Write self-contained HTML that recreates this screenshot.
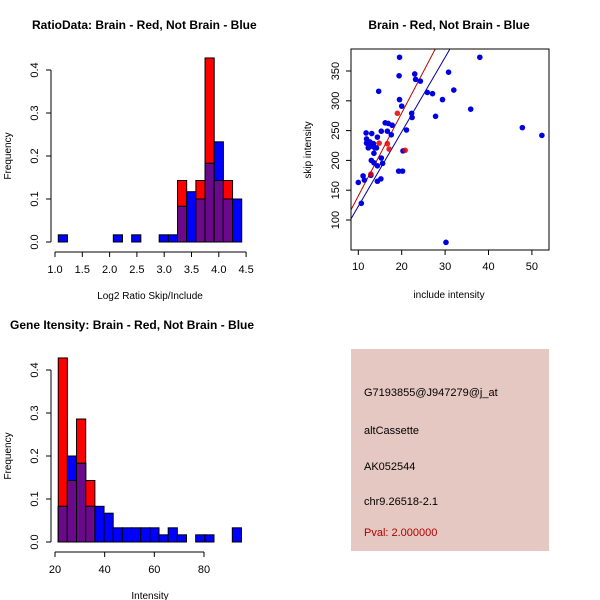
<!DOCTYPE html>
<html><head><meta charset="utf-8"><style>
body{margin:0;background:#fff}
svg{display:block;font-family:"Liberation Sans",sans-serif}
</style></head><body>
<svg id="c" width="600" height="600" viewBox="0 0 600 600">
<rect width="600" height="600" fill="#fff"/>
<g>
<rect x="351" y="349" width="198" height="202" fill="#e6c8c2"/>
<text x="364" y="396" font-size="11">G7193855@J947279@j_at</text>
<text x="364" y="434" font-size="11">altCassette</text>
<text x="364" y="470" font-size="11">AK052544</text>
<text x="364" y="505" font-size="11">chr9.26518-2.1</text>
<text x="364" y="536" font-size="11" fill="#b00000">Pval: 2.000000</text>
</g>
</svg>
<script>
// Histogram 1 data
const h1Red=[0,0,0,0,0,0,0,0,0,0,0,0,0,0.143,0,0.143,0.428,0.143,0.143,0];
const h1Blue=[0.0167,0,0,0,0,0,0.0167,0,0.0167,0,0,0.0167,0.0167,0.083,0.117,0.1,0.183,0.233,0.1,0.1];
const h1Start=1.06, h1Width=0.168;
const h1XTicks=[1.0,1.5,2.0,2.5,3.0,3.5,4.0,4.5];
const h1YTicks=[0.0,0.1,0.2,0.3,0.4];
// Histogram 2 data
const h2Red=[0.428,0.143,0.286,0.143,0,0,0,0,0,0,0,0,0,0,0,0,0,0,0,0];
const h2Blue=[0.083,0.2,0.183,0.083,0.083,0.067,0.033,0.033,0.033,0.033,0.033,0.0167,0.033,0.0167,0,0.0167,0.0167,0,0,0.033];
const h2Start=21.3, h2Width=3.69;
const h2XTicks=[20,40,60,80];
const h2YTicks=[0.0,0.1,0.2,0.3,0.4];
// Scatter data
const blueX=[19.5,38.0,30.8,23.0,19.4,23.2,24.3,14.7,32.0,25.9,27.1,19.5,29.4,20.0,35.9,22.3,22.4,27.8,47.8,52.3,16.2,16.9,17.8,15.3,16.7,21.1,17.6,11.8,13.1,14.4,11.9,12.3,12.7,12.3,13.1,13.5,13.8,13.6,12.7,11.9,14.2,20.3,13.0,13.6,15.3,15.6,14.4,19.3,20.2,11.1,11.4,10.0,14.4,15.2,10.7,30.2,12.9];
const blueY=[373,373,348,345,342,336,333,316,318,314,312,302,302,291,286,279,272,274,255,242,263,262,259,249,249,251,243,246,245,239,236,231,224,221,224,228,221,212,231,229,221,216,200,196,204,195,191,182,182,174,167,163,165,169,128,62.5,175];
const redX=[19.0,14.8,16.7,17.1,20.8,12.9];
const redY=[279,229,228,219,217,177];
const sXTicks=[10,20,30,40,50];
const sYTicks=[100,150,200,250,300,350];
const redLine=[8.3,116.8,13.9];
const blueLine=[8.3,101.7,12.5];

const svg=document.getElementById('c');
const NS='http://www.w3.org/2000/svg';
function mk(tag,attrs,parent){const e=document.createElementNS(NS,tag);for(const k in attrs)e.setAttribute(k,attrs[k]);(parent||svg).appendChild(e);return e;}
function txt(x,y,s,size,parent,anchor,rot,bold){const t=mk('text',{x:x,y:y,'font-size':size,'text-anchor':anchor||'middle'},parent);if(rot)t.setAttribute('transform','rotate(-90 '+x+' '+y+')');if(bold)t.setAttribute('font-weight','bold');t.textContent=s;return t;}

function hist(cfg){
  const g=mk('g',{});
  
  
  const X=v=>cfg.x0px+(v-cfg.x0v)*cfg.xs, Y=v=>cfg.y0px-v*cfg.ys;
  const bw=cfg.width*cfg.xs;
  for(let i=0;i<cfg.red.length;i++){
    const x=X(cfg.start+i*cfg.width), r=cfg.red[i], b=cfg.blue[i], m=Math.min(r,b);
    if(r>0){const e=mk('rect',{x:x,y:Y(r),width:bw,height:Y(0)-Y(r),fill:'#ff0000',stroke:'#000','stroke-width':1},g);
      }
    if(b>0){const e=mk('rect',{x:x,y:Y(b),width:bw,height:Y(0)-Y(b),fill:'#0000ff',stroke:'#000','stroke-width':1},g);
      }
    if(m>0){const e=mk('rect',{x:x,y:Y(m),width:bw,height:Y(0)-Y(m),fill:'#6a0a8a',stroke:'#000','stroke-width':1},g);
      }
  }
  const ax=mk('g',{stroke:'#000','stroke-width':1},g);
  
  const xl=cfg.xt[0],xr=cfg.xt[cfg.xt.length-1];
  mk('line',{x1:X(xl),x2:X(xr),y1:cfg.y0px+10,y2:cfg.y0px+10},ax);
  cfg.xt.forEach(v=>{mk('line',{x1:X(v),x2:X(v),y1:cfg.y0px+10,y2:cfg.y0px+15},ax);
    const t=txt(X(v),cfg.y0px+31,cfg.xfmt(v),11,g);});
  const ay=mk('g',{stroke:'#000','stroke-width':1},g);
  
  mk('line',{x1:cfg.yax,x2:cfg.yax,y1:Y(0),y2:Y(0.4)},ay);
  cfg.yt.forEach(v=>{mk('line',{x1:cfg.yax-5,x2:cfg.yax,y1:Y(v),y2:Y(v)},ay);
    const t=txt(cfg.yax-13,Y(v),v.toFixed(1),11,g,'middle',true);});
  let t=txt(cfg.x0px+95,cfg.y0px+57,cfg.xlab,10,g);
  t=txt(11,cfg.y0px-86,'Frequency',10,g,'middle',true);
  t=txt(cfg.titleX,cfg.titleY,cfg.title,12,g,'start',false,true);
}
hist({name:'ratio-histogram',red:h1Red,blue:h1Blue,start:h1Start,width:h1Width,xt:h1XTicks,yt:h1YTicks,
  x0px:55,x0v:1.0,xs:54.6,y0px:242,ys:430,yax:51,xfmt:v=>v.toFixed(1),xlab:'Log2 Ratio Skip/Include',
  title:'RatioData: Brain - Red, Not Brain - Blue',titleX:32,titleY:29});
hist({name:'intensity-histogram',red:h2Red,blue:h2Blue,start:h2Start,width:h2Width,xt:h2XTicks,yt:h2YTicks,
  x0px:55,x0v:20,xs:2.483,y0px:542,ys:430,yax:51,xfmt:v=>String(v),xlab:'Intensity',
  title:'Gene Itensity: Brain - Red, Not Brain - Blue',titleX:10,titleY:329});

// Scatter
(function(){
  const g=mk('g',{});
  
  
  const L=351,R=549,T=49,B=250;
  const X=v=>358.3+(v-10)*4.34, Y=v=>220-(v-100)*0.596;
  const clip=mk('clipPath',{id:'sc'},g);mk('rect',{x:L,y:T,width:R-L,height:B-T},clip);
  const pg=mk('g',{'clip-path':'url(#sc)'},g);
  [[blueLine,'#0000a0','blue-fit-line'],[redLine,'#c00000','red-fit-line']].forEach(([p,c,n])=>{
    const x1=p[0],y1=p[1],x2=60,y2=p[1]+p[2]*(60-p[0]);
    const l=mk('line',{x1:X(x1),y1:Y(y1),x2:X(x2),y2:Y(y2),stroke:c,'stroke-width':1},pg);
    
  });
  for(let i=0;i<blueX.length;i++){const c=mk('circle',{cx:X(blueX[i]),cy:Y(blueY[i]),r:2.8,fill:'#0000e0'},pg);
    }
  for(let i=0;i<redX.length;i++){const c=mk('circle',{cx:X(redX[i]),cy:Y(redY[i]),r:2.8,fill:'#e00000','fill-opacity':0.85},pg);
    }
  const box=mk('rect',{x:L,y:T,width:R-L,height:B-T,fill:'none',stroke:'#000'},g);
  
  sXTicks.forEach(v=>{mk('line',{x1:X(v),x2:X(v),y1:B,y2:B+5,stroke:'#000'},g);
    const t=txt(X(v),B+20,String(v),11,g);});
  sYTicks.forEach(v=>{mk('line',{x1:L-5,x2:L,y1:Y(v),y2:Y(v),stroke:'#000'},g);
    const t=txt(L-12,Y(v),String(v),11,g,'middle',true);});
  let t=txt(449,298,'include intensity',10,g);
  t=txt(311,150,'skip intensity',10,g,'middle',true);
  t=txt(449,29,'Brain - Red, Not Brain - Blue',12,g,'middle',false,true);
})();
</script>
</body></html>
